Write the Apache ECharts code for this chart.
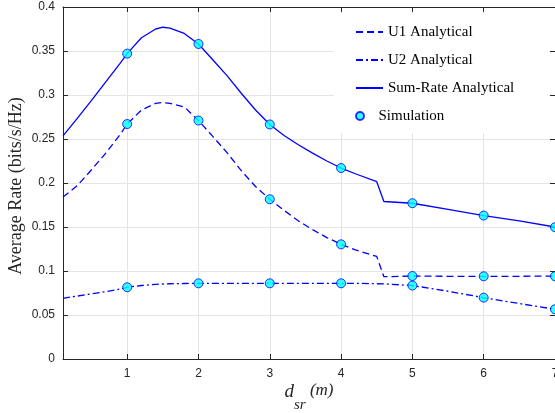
<!DOCTYPE html>
<html>
<head>
<meta charset="utf-8">
<script src="https://cdn.jsdelivr.net/npm/echarts@6/dist/echarts.min.js"></script>
<style>
html,body{margin:0;padding:0;background:#fff;}
#chart{width:555px;height:413px;}
</style>
</head>
<body>
<div id="chart"></div>
<script>
// ---- data ----
const xAnalytical = [0.1,0.3,0.5,0.7,0.9,1.0,1.2,1.4,1.5,1.6,1.8,2.0,2.2,2.4,2.6,2.8,3.0,3.2,3.4,3.6,3.8,4.0,4.2,4.5,4.6,5.0,5.5,6.0,6.5,7.0];
const u1Analytical = [0.184,0.197,0.215,0.234,0.255,0.267,0.283,0.2905,0.2915,0.2905,0.2865,0.271,0.253,0.2345,0.214,0.196,0.1815,0.169,0.157,0.147,0.138,0.1303,0.124,0.1165,0.0935,0.0943,0.094,0.094,0.094,0.0942];
const u2Analytical = [0.069,0.0715,0.074,0.0765,0.0795,0.0815,0.0835,0.0848,0.0852,0.0855,0.0858,0.086,0.086,0.086,0.086,0.086,0.086,0.086,0.086,0.086,0.086,0.086,0.086,0.0855,0.0853,0.0835,0.077,0.0697,0.063,0.0565];
const sumAnalytical = [0.2535,0.2735,0.294,0.315,0.336,0.347,0.365,0.375,0.377,0.376,0.370,0.358,0.340,0.322,0.302,0.283,0.2665,0.254,0.2435,0.234,0.225,0.217,0.2105,0.2015,0.179,0.177,0.170,0.163,0.157,0.150];
const xSim = [1,2,3,4,5,6,7];
const u1Sim = [0.267,0.271,0.1815,0.1303,0.0943,0.094,0.094];
const u2Sim = [0.0815,0.086,0.086,0.086,0.0835,0.0697,0.0565];
const sumSim = [0.347,0.358,0.2665,0.217,0.177,0.163,0.1497];
const xTicks = [1,2,3,4,5,6,7];
const seriesNames = ['U1 Analytical','U2 Analytical','Sum-Rate Analytical','Simulation'];

const pair = (xs, ys) => xs.map((x, i) => [x, ys[i]]);

const blue = '#0000ff';
const axisColor = '#262626';
const gridColor = '#e4e4e4';
const serif = '"Liberation Serif","Times New Roman",serif';
const sans = '"Liberation Sans",Arial,Helvetica,sans-serif';

const lineBase = {
  type: 'line', symbol: 'none', showSymbol: false, smooth: false,
  itemStyle: {color: blue}, z: 3, clip: false
};
const simBase = {
  type: 'scatter', name: seriesNames[3], symbol: 'circle', symbolSize: 9,
  itemStyle: {color: '#00ffff', borderColor: blue, borderWidth: 1}, z: 5, clip: false
};

const commonX = {
  type: 'value', min: 0.1, max: 7,
  axisLine: {show: true, onZero: false, lineStyle: {color: axisColor, width: 1}},
  axisTick: {show: true, inside: true, length: 5, customValues: xTicks, lineStyle: {color: axisColor}}
};
const commonY = {
  type: 'value', min: 0, max: 0.4, interval: 0.05,
  axisLine: {show: true, onZero: false, lineStyle: {color: axisColor, width: 1}},
  axisTick: {show: true, inside: true, length: 5, lineStyle: {color: axisColor}}
};

const chart = echarts.init(document.getElementById('chart'), null, {renderer: 'canvas'});
chart.setOption({
  animation: false,
  backgroundColor: '#fff',
  grid: {left: 63, right: 0, top: 7, bottom: 54, containLabel: false, outerBoundsMode: 'none'},
  legend: [
    {
      data: seriesNames.slice(0, 3),
      orient: 'vertical', left: 334, top: 14,
      padding: [10.5, 35, 13, 21],
      itemWidth: 27, itemHeight: 14, itemGap: 13,
      backgroundColor: '#fff', borderWidth: 0,
      selectedMode: false,
      itemStyle: {color: 'rgba(0,0,0,0)', borderColor: 'rgba(0,0,0,0)', borderWidth: 0, opacity: 0},
      textStyle: {fontFamily: serif, fontSize: 15, color: '#000'}
    },
    {
      data: [seriesNames[3]],
      orient: 'vertical', left: 334, top: 108.5,
      padding: [0, 95, 9.5, 21],
      itemWidth: 27, itemHeight: 8,
      backgroundColor: '#fff', borderWidth: 0,
      selectedMode: false,
      textStyle: {fontFamily: serif, fontSize: 15, color: '#000'}
    }
  ],
  xAxis: [
    Object.assign({}, commonX, {
      position: 'bottom',
      name: '{d|d}{s|sr}{m| (m)}',
      nameLocation: 'middle', nameGap: 23, nameMoveOverlap: false,
      nameTextStyle: {
        rich: {
          d: {fontFamily: serif, fontStyle: 'italic', fontSize: 19, lineHeight: 20, verticalAlign: 'top', color: '#262626'},
          s: {fontFamily: serif, fontStyle: 'italic', fontSize: 15, lineHeight: 14, padding: [16, 0, 0, 0], verticalAlign: 'top', color: '#262626'},
          m: {fontFamily: serif, fontStyle: 'italic', fontSize: 17, lineHeight: 20, verticalAlign: 'top', color: '#262626'}
        }
      },
      axisLabel: {
        show: true, margin: 9, color: axisColor, fontFamily: sans, fontSize: 12,
        customValues: xTicks,
        formatter: v => String(Math.round(v))
      },
      splitLine: {show: true, lineStyle: {color: gridColor, width: 1}}
    }),
    Object.assign({}, commonX, {
      position: 'top',
      axisLabel: {show: false},
      splitLine: {show: false}
    })
  ],
  yAxis: [
    Object.assign({}, commonY, {
      position: 'left',
      name: 'Average Rate (bits/s/Hz)',
      nameLocation: 'middle', nameGap: 38, nameRotate: 90, nameMoveOverlap: false,
      nameTextStyle: {fontFamily: serif, fontSize: 18, color: '#262626', padding: [0, 6, 0, 0]},
      axisLabel: {show: true, margin: 8, color: axisColor, fontFamily: sans, fontSize: 12},
      splitLine: {show: true, lineStyle: {color: gridColor, width: 1}}
    }),
    Object.assign({}, commonY, {
      position: 'right',
      axisLabel: {show: false},
      splitLine: {show: false}
    })
  ],
  series: [
    Object.assign({}, lineBase, {name: seriesNames[0], data: pair(xAnalytical, u1Analytical),
      lineStyle: {color: blue, width: 1.3, type: [7, 4]}}),
    Object.assign({}, lineBase, {name: seriesNames[1], data: pair(xAnalytical, u2Analytical),
      lineStyle: {color: blue, width: 1.3, type: [7, 3, 2, 3]}}),
    Object.assign({}, lineBase, {name: seriesNames[2], data: pair(xAnalytical, sumAnalytical),
      lineStyle: {color: blue, width: 1.3, type: 'solid'}}),
    Object.assign({}, simBase, {data: pair(xSim, u1Sim)}),
    Object.assign({}, simBase, {data: pair(xSim, u2Sim)}),
    Object.assign({}, simBase, {data: pair(xSim, sumSim)})
  ]
});
</script>
</body>
</html>
